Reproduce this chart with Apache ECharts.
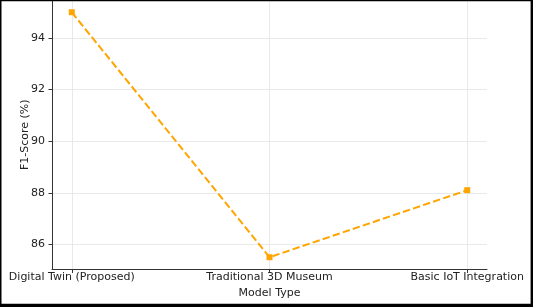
<!DOCTYPE html>
<html>
<head>
<meta charset="utf-8">
<script src="https://cdn.jsdelivr.net/npm/echarts@6/dist/echarts.min.js"></script>
<style>
html,body{margin:0;padding:0;background:#fff;}
#chart{width:533px;height:307px;}
</style>
</head>
<body>
<div id="chart"></div>
<script>
const categories = ["Digital Twin (Proposed)", "Traditional 3D Museum", "Basic IoT Integration"];
const f1Scores = [95.0, 85.5, 88.1];
const yTicks = [86, 88, 90, 92, 94];
const xTicks = [0, 1, 2];

const chart = echarts.init(document.getElementById('chart'), null, {renderer: 'canvas'});
const font = "DejaVu Sans";
const textColor = "#222";
const gridColor = "#e3e3e3";

chart.setOption({
  animation: false,
  backgroundColor: '#fff',
  grid: {left: 52, right: 46, top: -0.9, bottom: 37.5, containLabel: false},
  xAxis: {
    type: 'value',
    min: -0.1, max: 2.1,
    name: 'Model Type',
    nameLocation: 'middle',
    nameGap: 18,
    nameMoveOverlap: false,
    nameTextStyle: {fontFamily: font, fontSize: 11, color: textColor},
    axisLine: {show: true, onZero: false, lineStyle: {color: '#333', width: 1}},
    axisTick: {show: true, length: 3.5, customValues: xTicks, lineStyle: {color: '#333'}},
    axisLabel: {
      customValues: xTicks, margin: 2,
      fontFamily: font, fontSize: 11, color: textColor,
      formatter: v => categories[Math.round(v)]
    },
    splitLine: {show: true, lineStyle: {color: gridColor, width: 0.8}}
  },
  yAxis: {
    type: 'value',
    min: 85.025, max: 95.475,
    name: 'F1-Score (%)',
    nameLocation: 'middle',
    nameGap: 21,
    nameRotate: 90,
    nameMoveOverlap: false,
    nameTextStyle: {fontFamily: font, fontSize: 11, color: textColor},
    axisLine: {show: true, onZero: false, lineStyle: {color: '#333', width: 1}},
    axisTick: {show: true, length: 3.5, customValues: yTicks, lineStyle: {color: '#333'}},
    axisLabel: {customValues: yTicks, margin: 7, fontFamily: font, fontSize: 11, color: textColor},
    splitLine: {show: true, lineStyle: {color: gridColor, width: 0.8}}
  },
  series: [{
    type: 'line',
    data: f1Scores.map((v, i) => [i, v]),
    symbol: 'rect',
    symbolSize: 6,
    itemStyle: {color: '#FFA500'},
    lineStyle: {color: '#FFA500', width: 2, type: [7.4, 3.2]},
    z: 5
  }],
  graphic: [
    {type: 'rect', shape: {x: 0, y: 0, width: 1.5, height: 307}, style: {fill: '#000'}, z: 100},
    {type: 'rect', shape: {x: 0, y: 0, width: 533, height: 1.2}, style: {fill: '#000'}, z: 100},
    {type: 'rect', shape: {x: 530.6, y: 0, width: 2.4, height: 307}, style: {fill: '#000'}, z: 100},
    {type: 'rect', shape: {x: 0, y: 303.7, width: 533, height: 3.3}, style: {fill: '#000'}, z: 100}
  ]
});
</script>
</body>
</html>
